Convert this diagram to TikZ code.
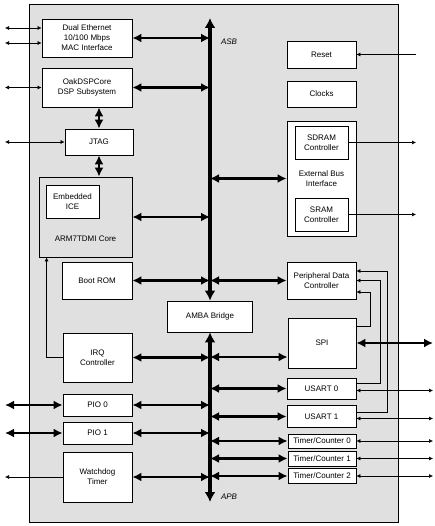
\documentclass[tikz,border=0pt]{standalone}
\usepackage{fontspec}
\setmainfont{Liberation Sans}
\usetikzlibrary{arrows.meta}

\begin{document}
\begin{tikzpicture}[x=1pt,y=-1pt,
    blk/.style={draw, line width=0.8pt, fill=white, align=center, inner sep=1pt,
        font=\fontsize{8}{10}\selectfont},
    sz/.style 2 args={minimum width=#1, minimum height=#2},
    txt/.style={align=center, inner sep=0pt, font=\fontsize{8}{10}\selectfont},
    buslbl/.style={inner sep=0pt, font=\fontsize{8}{10}\selectfont\itshape},
    bus/.style={line width=3.6pt, {Latex[length=10pt,width=11pt]}-{Latex[length=10pt,width=11pt]}},
    link/.style={line width=2.6pt, {Latex[length=9pt,width=9pt]}-{Latex[length=9pt,width=9pt]}},
    pin/.style={line width=0.6pt, -{Latex[length=4pt,width=4pt]}},
    pins/.style={line width=0.6pt, {Latex[length=4pt,width=4pt]}-{Latex[length=4pt,width=4pt]}}]
    \useasboundingbox (0,0) rectangle (434,526);
    \draw[line width=0.8pt, fill=black!12] (29,4) rectangle (398,522);

    \coordinate (asbtop) at (210,18);
    \coordinate (apbbot) at (210,502);
    \coordinate (lft) at (5,0);
    \coordinate (rgta) at (416,0);
    \coordinate (rgtb) at (433,0);

    \node[blk, sz={90pt}{38pt}] (eth) at (87,38) {Dual Ethernet\\10/100 Mbps\\MAC Interface};
    \node[blk, sz={90pt}{39pt}] (dsp) at (87,87.5) {OakDSPCore\\DSP Subsystem};
    \node[blk, sz={68pt}{26pt}] (jtag) at (99,142) {JTAG};
    \node[blk, fill=none, sz={93pt}{80pt}] (arm) at (85.5,217) {};
    \node[blk, sz={53pt}{33pt}] (ice) at (72.5,201.5) {Embedded\\ICE};
    \node[txt] (armlbl) at (85.5,239) {ARM7TDMI Core};
    \node[blk, sz={70pt}{37pt}] (rom) at (97,280.5) {Boot ROM};
    \node[blk, sz={85pt}{31pt}] (amba) at (210,316.5) {AMBA Bridge};
    \node[blk, sz={69pt}{49pt}] (irq) at (97.5,357.5) {IRQ\\Controller};
    \node[blk, sz={69pt}{22pt}] (pio0) at (97.5,405) {PIO 0};
    \node[blk, sz={69pt}{22pt}] (pio1) at (97.5,433) {PIO 1};
    \node[blk, sz={69pt}{50pt}] (wdt) at (97.5,477) {Watchdog\\Timer};

    \node[blk, sz={69pt}{27pt}] (rst) at (321.5,54.5) {Reset};
    \node[blk, sz={69pt}{26pt}] (clk) at (321.5,94) {Clocks};
    \node[blk, sz={69pt}{115pt}] (ebi) at (321.5,178.5) {External Bus\\Interface};
    \node[blk, sz={53pt}{33pt}] (sdram) at (321.5,142.5) {SDRAM\\Controller};
    \node[blk, sz={53pt}{33pt}] (sram) at (321.5,214.5) {SRAM\\Controller};
    \node[blk, sz={69pt}{37pt}] (pdc) at (321.5,280.5) {Peripheral Data\\Controller};
    \node[blk, sz={68pt}{50pt}] (spi) at (322,343) {SPI};
    \node[blk, sz={69pt}{21pt}] (us0) at (321.5,388.5) {USART 0};
    \node[blk, sz={69pt}{22pt}] (us1) at (321.5,416.5) {USART 1};
    \node[blk, sz={68pt}{14pt}] (tc0) at (322,441) {Timer/Counter 0};
    \node[blk, sz={68pt}{15pt}] (tc1) at (322,458.5) {Timer/Counter 1};
    \node[blk, sz={68pt}{15pt}] (tc2) at (322,476) {Timer/Counter 2};

    \node[buslbl] (asb) at (229,42) {ASB};
    \node[buslbl] (apb) at (229,497) {APB};

    \draw[bus] (asbtop) -- (amba.north);
    \draw[bus] (amba.south) -- (apbbot);

    \draw[link] (eth.east) -- (eth.east -| asbtop);
    \draw[link] (dsp.east) -- (dsp.east -| asbtop);
    \draw[link] (arm.east) -- (arm.east -| asbtop);
    \draw[link] (rom.east) -- (rom.east -| asbtop);
    \draw[link] (ebi.west -| asbtop) -- (ebi.west);
    \draw[link] (pdc.west -| asbtop) -- (pdc.west);
    \draw[link] (jtag.north) -- (jtag.north |- dsp.south);
    \draw[link] (jtag.south) -- (jtag.south |- arm.north);

    \draw[link] (irq.east) -- (irq.east -| apbbot);
    \draw[link] (pio0.east) -- (pio0.east -| apbbot);
    \draw[link] (pio1.east) -- (pio1.east -| apbbot);
    \draw[link] (wdt.east) -- (wdt.east -| apbbot);
    \coordinate (spib) at ([yshift=-14pt]spi.west);
    \draw[link] (spib -| apbbot) -- (spib);
    \draw[link] (us0.west -| apbbot) -- (us0.west);
    \draw[link] (us1.west -| apbbot) -- (us1.west);
    \draw[link] (tc0.west -| apbbot) -- (tc0.west);
    \draw[link] (tc1.west -| apbbot) -- (tc1.west);
    \draw[link] (tc2.west -| apbbot) -- (tc2.west);

    \draw[link] (pio0.west -| lft) -- (pio0.west);
    \draw[link] (pio1.west -| lft) -- (pio1.west);
    \draw[link] (spi.east) -- (spi.east -| rgtb);

    \coordinate (e1) at ([yshift=10pt]eth.west);
    \coordinate (e2) at ([yshift=-5pt]eth.west);
    \draw[pins] (e1 -| lft) -- (e1);
    \draw[pins] (e2 -| lft) -- (e2);
    \draw[pins] (dsp.west -| lft) -- (dsp.west);
    \draw[pins] (jtag.west -| lft) -- (jtag.west);
    \draw[pin] (wdt.west) -- (wdt.west -| lft);
    \draw[pin] (irq.west) -| ([xshift=8pt]arm.south west);

    \draw[pin] (rst.east -| rgta) -- (rst.east);
    \draw[pin] (sdram.east) -- (sdram.east -| rgta);
    \draw[pin] (sram.east) -- (sram.east -| rgta);

    \coordinate (k1) at (387,0);
    \coordinate (k2) at (380,0);
    \coordinate (k3) at (370,0);
    \coordinate (p1) at ([yshift=9.5pt]pdc.east);
    \coordinate (p2) at (pdc.east);
    \coordinate (p3) at ([yshift=-11.5pt]pdc.east);
    \coordinate (u1) at ([yshift=4pt]us1.east);
    \coordinate (u0) at ([yshift=5pt]us0.east);
    \coordinate (s0) at ([yshift=17pt]spi.east);
    \draw[pin] (u1) -| (p1 -| k1) -- (p1);
    \draw[pin] (u0) -| (p2 -| k2) -- (p2);
    \draw[pin] (s0) -| (p3 -| k3) -- (p3);

    \coordinate (u0x) at ([yshift=-2pt]us0.east);
    \coordinate (u1x) at ([yshift=-2pt]us1.east);
    \draw[pins] (u0x) -- (u0x -| rgtb);
    \draw[pins] (u1x) -- (u1x -| rgtb);
    \draw[pins] (tc0.east) -- (tc0.east -| rgtb);
    \draw[pins] (tc1.east) -- (tc1.east -| rgtb);
    \draw[pins] (tc2.east) -- (tc2.east -| rgtb);
\end{tikzpicture}
\end{document}
